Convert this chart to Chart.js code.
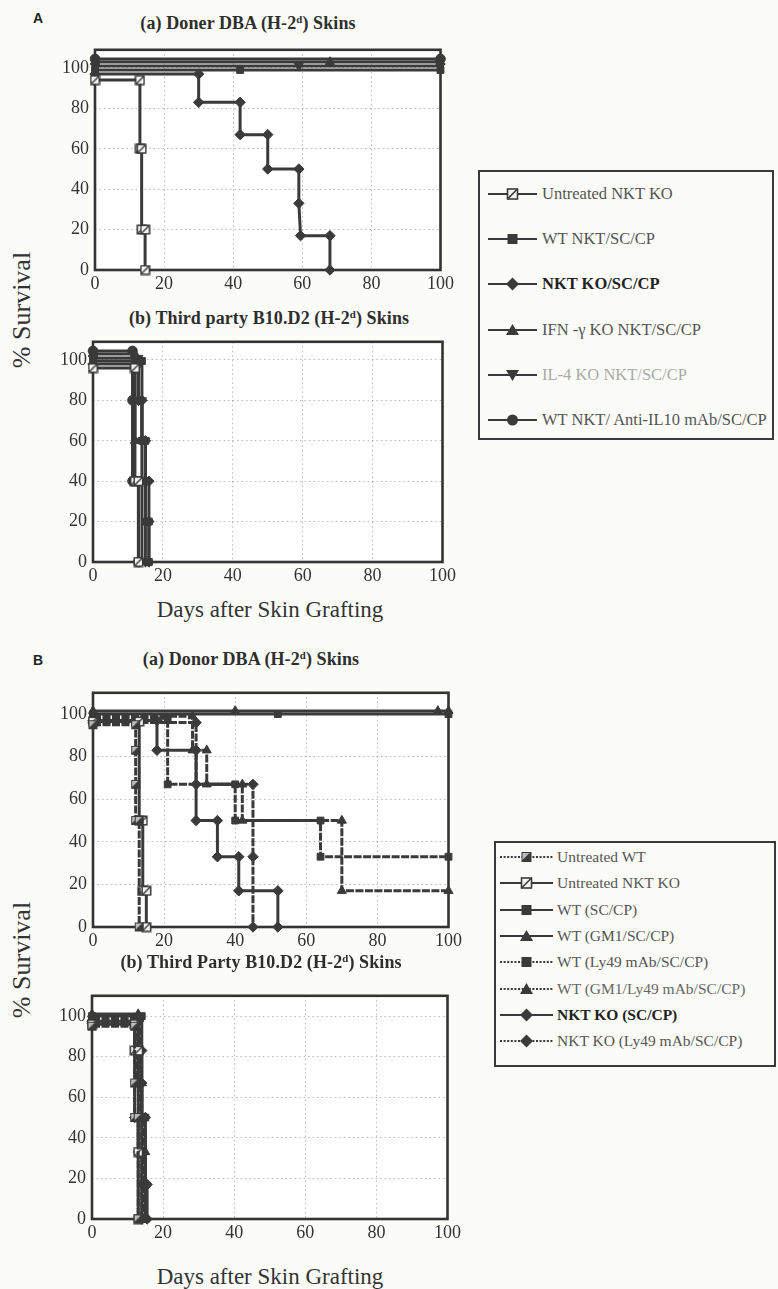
<!DOCTYPE html>
<html><head><meta charset="utf-8">
<script src="https://cdn.jsdelivr.net/npm/chart.js@4.4.0/dist/chart.umd.min.js"></script>
<style>
body{margin:0;background:#fbfbf8;width:778px;height:1289px;position:relative;overflow:hidden;font-family:"Liberation Serif","Times New Roman",serif;color:#333;}
.t{position:absolute;transform:translate(-50%,-50%);white-space:nowrap;}
.title{font-weight:bold;font-size:18px;color:#2e2e2e;letter-spacing:0.1px}
.title sup{font-size:0.6em;vertical-align:0.55em;line-height:0}
.panelLetter{font-family:"Liberation Sans",Arial,sans-serif;font-weight:bold;font-size:14px;color:#222}
.ylab{font-size:26px;color:#333;transform:translate(-50%,-50%) rotate(-90deg)}
.xlab{font-size:23px;color:#333}
.legend{position:absolute;border:2px solid #3a3a3a;background:#fbfbf8;box-sizing:border-box}
.lrow{position:absolute;display:flex;align-items:center;white-space:nowrap}
.lrow svg{flex:none}
</style>
</head><body>
<script>
// ===================== DATA =====================
const xTickValues = [0, 20, 40, 60, 80, 100];
const yTickValues = [0, 20, 40, 60, 80, 100];

// ---- Panel A legend names ----
const namesA = ['Untreated NKT KO', 'WT NKT/SC/CP', 'NKT KO/SC/CP', 'IFN -\u03b3 KO NKT/SC/CP', 'IL-4 KO NKT/SC/CP', 'WT NKT/ Anti-IL10 mAb/SC/CP'];

// ---- Panel A (a): Donor DBA skins  [day, % survival] ----
const Aa_untreated = [[0,94],[13,94],[13,60],[13.5,60],[13.5,20],[14.5,20],[14.5,0]];
const Aa_wtNkt     = [[0,99],[42,99],[100,99]];
const Aa_nktKo     = [[0,97],[30,97],[30,83],[42,83],[42,67],[50,67],[50,50],[59,50],[59,33],[59.5,17],[68,17],[68,0]];
const Aa_ifnKo     = [[0,103],[68,103],[100,103]];
const Aa_il4Ko     = [[0,101],[59,101],[100,101]];
const Aa_antiIl10  = [[0,104.5],[100,104.5]];

// ---- Panel A (b): Third party B10.D2 skins ----
const Ab_untreated = [[0,96],[12,96],[12,40],[13,40],[13,0]];
const Ab_wtNkt     = [[0,99.5],[14,99.5],[14,60],[15,60],[15,20],[16,20],[16,0]];
const Ab_nktKo     = [[0,98],[13,98],[13,80],[14,80],[14,60],[15,60],[15,40],[16,40],[16,20],[16,0]];
const Ab_ifnKo     = [[0,103],[12,103],[12,60],[14,60],[14,0]];
const Ab_il4Ko     = [[0,101],[13,101],[13,80],[14,80],[14,60],[15,60],[15,40],[15,0]];
const Ab_antiIl10  = [[0,104.5],[11.3,104.5],[11.3,80],[11.3,40],[13,40],[13,0]];

// ---- Panel B legend names ----
const namesB = ['Untreated WT', 'Untreated NKT KO', 'WT (SC/CP)', 'WT (GM1/SC/CP)', 'WT (Ly49 mAb/SC/CP)', 'WT (GM1/Ly49 mAb/SC/CP)', 'NKT KO (SC/CP)', 'NKT KO (Ly49 mAb/SC/CP)'];

// ---- Panel B (a): Donor DBA skins ----
const Ba_untreatedWt  = [[0,95],[12,95],[12,83],[12,67],[12,50],[13,50],[13,0]];
const Ba_untreatedNkt = [[0,96.5],[13,96.5],[13,50],[14,50],[14,17],[15,17],[15,0]];
const Ba_wt           = [[0,100],[52,100],[100,100]];
const Ba_wtGm1        = [[0,101.5],[40,101.5],[97,101.5],[100,101.5]];
const Ba_wtLy49       = [[0,98],[21,98],[21,67],[40,67],[40,50],[64,50],[64,33],[100,33]];
const Ba_wtGm1Ly49    = [[0,99],[28,99],[28,83],[32,83],[32,67],[42,67],[42,50],[70,50],[70,17],[100,17]];
const Ba_nktKo        = [[0,97],[18,97],[18,83],[29,83],[29,50],[35,50],[35,33],[41,33],[41,17],[52,17],[52,0]];
const Ba_nktKoLy49    = [[0,96],[29,96],[29,67],[45,67],[45,33],[45,0]];

// ---- Panel B (b): Third party B10.D2 skins ----
const Bb_untreatedWt  = [[0,95],[12,95],[12,67],[12,50],[13,50],[13,0]];
const Bb_untreatedNkt = [[0,96],[12,96],[12,83],[13,83],[13,33],[13,0]];
const Bb_wt           = [[0,100],[14,100],[14,50],[15,50],[15,0]];
const Bb_wtGm1        = [[0,101],[13,101],[13,67],[14,67],[14,17],[14,0]];
const Bb_wtLy49       = [[0,99],[13.5,99],[13.5,50],[14.5,50],[14.5,0]];
const Bb_wtGm1Ly49    = [[0,98],[12.5,98],[12.5,67],[14,67],[14,33],[15,33],[15,17],[15,0]];
const Bb_nktKo        = [[0,97.5],[13,97.5],[13,83],[14,83],[14,67],[14,50],[15,50],[15,17],[15.5,17],[15.5,0]];
const Bb_nktKoLy49    = [[0,96.5],[12,96.5],[12,50],[13,50],[13,33],[14,33],[14,0]];

// ===================== STYLES =====================
const INK = '#3a3a3a';
const markA = ['half','rect','diamond','tri','invtri','circle'];
const dashA = [false,false,false,false,false,false];
const textColA = ['#555','#555','#222','#555','#aaa','#555'];
const boldA = [false,false,true,false,false,false];
const markB = ['dark','half','rect','tri','rect','tri','diamond','diamond'];
const dashB = [true,false,false,false,true,true,false,true];
const textColB = ['#555','#555','#555','#555','#555','#666','#222','#555'];
const boldB = [false,false,false,false,false,false,true,false];

function customMarker(kind){
  const c = document.createElement('canvas'); c.width = 11; c.height = 11;
  const g = c.getContext('2d');
  if (kind === 'half') {
    g.fillStyle = '#f4f4f4'; g.fillRect(1,1,9,9);
    g.strokeStyle = INK; g.lineWidth = 1.5; g.strokeRect(1.25,1.25,8.5,8.5);
    g.beginPath(); g.moveTo(1.5,9.5); g.lineTo(9.5,1.5); g.stroke();
  } else {
    g.fillStyle = INK; g.fillRect(1,1,9,9);
    g.fillStyle = '#bdbdbd'; g.beginPath(); g.moveTo(2,2); g.lineTo(8,2); g.lineTo(2,8); g.closePath(); g.fill();
  }
  return c;
}
function ptStyle(kind){
  if (kind === 'half' || kind === 'dark') return {pointStyle: customMarker(kind), pointRadius: 4.5, pointRotation: 0};
  if (kind === 'rect') return {pointStyle:'rect', pointRadius:4.8, pointRotation:0};
  if (kind === 'diamond') return {pointStyle:'rectRot', pointRadius:5.2, pointRotation:0};
  if (kind === 'tri') return {pointStyle:'triangle', pointRadius:5.2, pointRotation:0};
  if (kind === 'invtri') return {pointStyle:'triangle', pointRadius:5.2, pointRotation:180};
  return {pointStyle:'circle', pointRadius:4.8, pointRotation:0};
}

const framePlugin = {
  id:'frame',
  beforeDraw(chart){
    const {ctx, chartArea:a} = chart;
    ctx.save(); ctx.fillStyle = '#ffffff'; ctx.fillRect(a.left, a.top, a.right-a.left, a.bottom-a.top); ctx.restore();
  },
  beforeDatasetsDraw(chart){
    const {ctx, chartArea:a} = chart;
    ctx.save(); ctx.strokeStyle = '#333'; ctx.lineWidth = 2.6;
    ctx.strokeRect(a.left, a.top, a.right-a.left, a.bottom-a.top); ctx.restore();
  }
};

function panel(area, yMax, seriesList, marks, dashes){
  const YW = 50, PT = 12, PR = 16, XH = 30;
  const left = area.left - YW, top = area.top - PT;
  const w = area.right + PR - left, h = area.bottom + XH - top;
  const div = document.createElement('div');
  div.style.cssText = `position:absolute;left:${left}px;top:${top}px;width:${w}px;height:${h}px`;
  const cv = document.createElement('canvas'); cv.width = w; cv.height = h;
  div.appendChild(cv); document.body.appendChild(div);
  const datasets = seriesList.map((pts, i) => Object.assign({
    data: pts.map(([x,y]) => ({x, y})),
    borderColor: INK, borderWidth: 3, tension: 0, fill: false,
    borderDash: dashes[i] ? [8,1.5] : [],
    pointBackgroundColor: INK, pointBorderColor: INK, pointBorderWidth: 1,
    clip: false
  }, ptStyle(marks[i])));
  const tickFont = {family:'"Liberation Serif", serif', size:18};
  new Chart(cv, {
    type:'line',
    data:{datasets},
    plugins:[framePlugin],
    options:{
      responsive:false, animation:false, events:[],
      layout:{padding:{top:PT, right:PR, left:0, bottom:0}},
      plugins:{legend:{display:false}, tooltip:{enabled:false}},
      scales:{
        x:{type:'linear', min:0, max:100,
          afterBuildTicks(s){ s.ticks = xTickValues.map(v => ({value:v})); },
          afterFit(s){ s.height = XH; },
          grid:{color:'rgba(0,0,0,0.28)', lineWidth:1, drawTicks:false},
          border:{display:false, dash:[1.5,3]},
          ticks:{font:tickFont, color:'#333', padding:3, maxRotation:0, autoSkip:false}},
        y:{type:'linear', min:0, max:yMax,
          afterBuildTicks(s){ s.ticks = yTickValues.map(v => ({value:v})); },
          afterFit(s){ s.width = YW; },
          grid:{color:'rgba(0,0,0,0.28)', lineWidth:1, drawTicks:false},
          border:{display:false, dash:[1.5,3]},
          ticks:{font:tickFont, color:'#333', padding:6, autoSkip:false}}
      }
    }
  });
}

function text(cls, html, x, y){
  const d = document.createElement('div'); d.className = 't ' + cls; d.innerHTML = html;
  d.style.left = x + 'px'; d.style.top = y + 'px'; document.body.appendChild(d);
}

function markerSVG(kind, cx, cy){
  const k = INK;
  switch(kind){
    case 'rect': return `<rect x="${cx-5}" y="${cy-5}" width="10" height="10" fill="${k}"/>`;
    case 'diamond': return `<polygon points="${cx},${cy-6.5} ${cx+6.5},${cy} ${cx},${cy+6.5} ${cx-6.5},${cy}" fill="${k}"/>`;
    case 'tri': return `<polygon points="${cx},${cy-6} ${cx+6.5},${cy+5} ${cx-6.5},${cy+5}" fill="${k}"/>`;
    case 'invtri': return `<polygon points="${cx},${cy+6} ${cx+6.5},${cy-5} ${cx-6.5},${cy-5}" fill="${k}"/>`;
    case 'circle': return `<circle cx="${cx}" cy="${cy}" r="5.5" fill="${k}"/>`;
    case 'half': return `<rect x="${cx-5}" y="${cy-5}" width="10" height="10" fill="#f4f4f4" stroke="${k}" stroke-width="1.6"/><line x1="${cx-5}" y1="${cy+5}" x2="${cx+5}" y2="${cy-5}" stroke="${k}" stroke-width="1.6"/>`;
    default: return `<rect x="${cx-5}" y="${cy-5}" width="10" height="10" fill="${k}"/><polygon points="${cx-4},${cy-4} ${cx+3},${cy-4} ${cx-4},${cy+3}" fill="#bbb"/>`;
  }
}

function legend(box, names, marks, dashes, cols, bolds, rowY, lineX0, lineX1, textX, fontSize){
  const L = document.createElement('div'); L.className = 'legend';
  L.style.cssText += `left:${box.left}px;top:${box.top}px;width:${box.w}px;height:${box.h}px`;
  document.body.appendChild(L);
  names.forEach((n, i) => {
    const r = document.createElement('div'); r.className = 'lrow';
    const y = rowY[i] - box.top - 2, x0 = lineX0 - box.left - 2;
    const sw = textX - lineX0;
    r.style.cssText += `left:${x0}px;top:${y-10}px;height:20px`;
    const cx = (lineX1 - lineX0) / 2;
    const dash = dashes[i] ? 'stroke-dasharray="2,1.6"' : '';
    r.innerHTML = `<svg width="${sw}" height="20" viewBox="0 0 ${sw} 20"><line x1="0" y1="10" x2="${lineX1-lineX0}" y2="10" stroke="${INK}" stroke-width="2.2" ${dash}/>${markerSVG(marks[i], cx, 10)}</svg>` +
      `<span style="font-size:${fontSize}px;color:${cols[i]};font-weight:${bolds[i]?'bold':'normal'}">${n}</span>`;
    L.appendChild(r);
  });
}

// ===================== BUILD =====================
text('panelLetter', 'A', 38, 18);
text('panelLetter', 'B', 38, 660);

text('title', '(a) Doner DBA (H-2<sup>d</sup>) Skins', 248, 23);
panel({left:95, top:45, right:441, bottom:270}, 109,
  [Aa_untreated, Aa_wtNkt, Aa_nktKo, Aa_ifnKo, Aa_il4Ko, Aa_antiIl10], markA, dashA);

text('title', '(b) Third party B10.D2 (H-2<sup>d</sup>) Skins', 269, 318);
panel({left:93, top:337, right:443, bottom:562}, 109,
  [Ab_untreated, Ab_wtNkt, Ab_nktKo, Ab_ifnKo, Ab_il4Ko, Ab_antiIl10], markA, dashA);

text('ylab', '% Survival', 22, 310);
text('xlab', 'Days after Skin Grafting', 270, 610);

text('title', '(a) Donor DBA (H-2<sup>d</sup>) Skins', 251, 659);
panel({left:93, top:688, right:449, bottom:927}, 110,
  [Ba_untreatedWt, Ba_untreatedNkt, Ba_wt, Ba_wtGm1, Ba_wtLy49, Ba_wtGm1Ly49, Ba_nktKo, Ba_nktKoLy49], markB, dashB);

text('title', '(b) Third Party B10.D2 (H-2<sup>d</sup>) Skins', 261, 962);
panel({left:92, top:991, right:448, bottom:1219}, 110,
  [Bb_untreatedWt, Bb_untreatedNkt, Bb_wt, Bb_wtGm1, Bb_wtLy49, Bb_wtGm1Ly49, Bb_nktKo, Bb_nktKoLy49], markB, dashB);

text('ylab', '% Survival', 22, 960);
text('xlab', 'Days after Skin Grafting', 270, 1277);

legend({left:478, top:170, w:296, h:270}, namesA, markA, dashA, textColA, boldA,
  [194, 239, 284, 330, 375, 420], 488, 537, 542, 16.5);
legend({left:494, top:841, w:282, h:226}, namesB, markB, dashB, textColB, boldB,
  [857, 883, 910, 936, 962, 989, 1015, 1041], 500, 553, 557, 15.5);
</script>
</body></html>
